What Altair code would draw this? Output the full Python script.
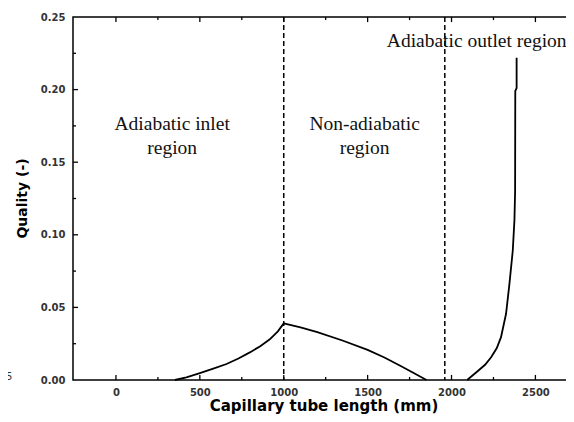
import altair as alt
import pandas as pd

# ---- data ----
inlet_x = [351, 420, 500, 580, 659, 730, 798, 860, 917, 965, 1000]
inlet_q = [0.0, 0.0018, 0.0047, 0.0078, 0.011, 0.0148, 0.019, 0.0233, 0.028, 0.0335, 0.039]

nonad_x = [1000, 1100, 1200, 1350, 1500, 1600, 1700, 1780, 1851]
nonad_q = [0.039, 0.0362, 0.033, 0.0272, 0.0207, 0.0155, 0.0095, 0.0045, 0.0]

outlet_x = [2093, 2150, 2200, 2236, 2270, 2295, 2325, 2345, 2365, 2375, 2379, 2380, 2388, 2388]
outlet_q = [0.0, 0.0055, 0.0105, 0.0157, 0.022, 0.0295, 0.0456, 0.066, 0.089, 0.110, 0.130, 0.199, 0.201, 0.222]

boundaries = [1000, 1960]

x_domain = [-256, 2730]
y_domain = [0.0, 0.25]
x_major = [0, 500, 1000, 1500, 2000, 2500]
x_minor = [250, 750, 1250, 1750, 2250]
y_labels = [0.0, 0.05, 0.10, 0.15, 0.20, 0.25]
y_major = [0.05, 0.10, 0.15, 0.20]
y_minor = [0.025, 0.075, 0.125, 0.175, 0.225]

labels_text = ["Adiabatic inlet\nregion", "Non-adiabatic\nregion", "Adiabatic outlet region"]
labels_x = [335, 1482, 2150]
labels_q = [0.1765, 0.1765, 0.2335]

W, H = 501, 363
# tick lengths expressed in data units (about 5 px major, 3 px minor)
XT_MAJ, XT_MIN = 0.0035, 0.0021
YT_MAJ, YT_MIN = 30, 18

curve = pd.DataFrame({
    "x": inlet_x + nonad_x + outlet_x,
    "q": inlet_q + nonad_q + outlet_q,
    "seg": ["inlet"] * len(inlet_x) + ["non"] * len(nonad_x) + ["outlet"] * len(outlet_x),
    "order": list(range(len(inlet_x))) + list(range(len(nonad_x))) + list(range(len(outlet_x))),
})

xs = alt.Scale(domain=x_domain, nice=False, zero=False)
ys = alt.Scale(domain=y_domain, nice=False)

lab_font = "DejaVu Sans"

x_axis = alt.Axis(values=x_major, title="Capillary tube length (mm)", grid=False,
                  domain=False, ticks=False, labelPadding=7, labelFont=lab_font,
                  labelFontWeight="bold", labelFontSize=10, labelColor="#333", format="d",
                  titleFont="DejaVu Sans", titleFontSize=15, titleFontWeight="bold",
                  titleColor="black", titleBaseline="alphabetic", titleY=30)
y_axis = alt.Axis(values=y_labels, format=".2f", title="Quality (-)",
                  grid=False, domain=False, ticks=False, labelPadding=8, labelFont=lab_font,
                  labelFontWeight="bold", labelFontSize=10, labelColor="#333",
                  titleFont="DejaVu Sans", titleFontSize=14, titleFontWeight="bold",
                  titleColor="black", titleAngle=270, titleBaseline="middle",
                  titleX=-51, titleY=181)

def X(field="x"):
    return alt.X(f"{field}:Q", scale=xs, axis=x_axis)

def Y(field="q"):
    return alt.Y(f"{field}:Q", scale=ys, axis=y_axis)

line = alt.Chart(curve).mark_line(color="black", strokeWidth=1.8).encode(
    x=X(), y=Y(), detail="seg:N", order="order:Q",
)

dash = alt.Chart(pd.DataFrame({"x": boundaries})).mark_rule(
    color="black", strokeWidth=1.5, strokeDash=[5, 3]
).encode(x=X())

# inward ticks on all four sides, built from the tick arrays
xt_rows = []
for v in x_major:
    xt_rows += [(v, y_domain[0], y_domain[0] + XT_MAJ), (v, y_domain[1], y_domain[1] - XT_MAJ)]
for v in x_minor:
    xt_rows += [(v, y_domain[0], y_domain[0] + XT_MIN), (v, y_domain[1], y_domain[1] - XT_MIN)]
xt = pd.DataFrame(xt_rows, columns=["x", "q", "q2"])

yt_rows = []
for v in y_major:
    yt_rows += [(x_domain[0], x_domain[0] + YT_MAJ, v), (x_domain[1], x_domain[1] - YT_MAJ, v)]
for v in y_minor:
    yt_rows += [(x_domain[0], x_domain[0] + YT_MIN, v), (x_domain[1], x_domain[1] - YT_MIN, v)]
yt = pd.DataFrame(yt_rows, columns=["x", "x2", "q"])

xticks = alt.Chart(xt).mark_rule(color="black", strokeWidth=1.3).encode(
    x=X(), y=Y(), y2="q2:Q")
yticks = alt.Chart(yt).mark_rule(color="black", strokeWidth=1.3).encode(
    x=X(), x2="x2:Q", y=Y())

ann = alt.Chart(pd.DataFrame({"t": labels_text, "x": labels_x, "q": labels_q})).mark_text(
    font="Liberation Serif", fontSize=19.5, color="#111", align="center", baseline="middle",
    lineBreak="\n", lineHeight=24
).encode(x=X(), y=Y(), text="t:N")

stray = alt.Chart(pd.DataFrame({"t": ["5"]})).mark_text(
    font=lab_font, fontSize=10, color="#333", align="left", baseline="middle"
).encode(x=alt.value(-67), y=alt.value(H - 3), text="t:N")

chart = alt.layer(line, dash, xticks, yticks, ann, stray).properties(
    width=W, height=H,
    background="white",
    autosize=alt.AutoSizeParams(type="none"),
    padding={"left": 65, "top": 9, "right": -8, "bottom": 34},
).configure_view(stroke="black", strokeWidth=1.5)

chart.save("out.html", embed_options={"renderer": "svg", "actions": False})
